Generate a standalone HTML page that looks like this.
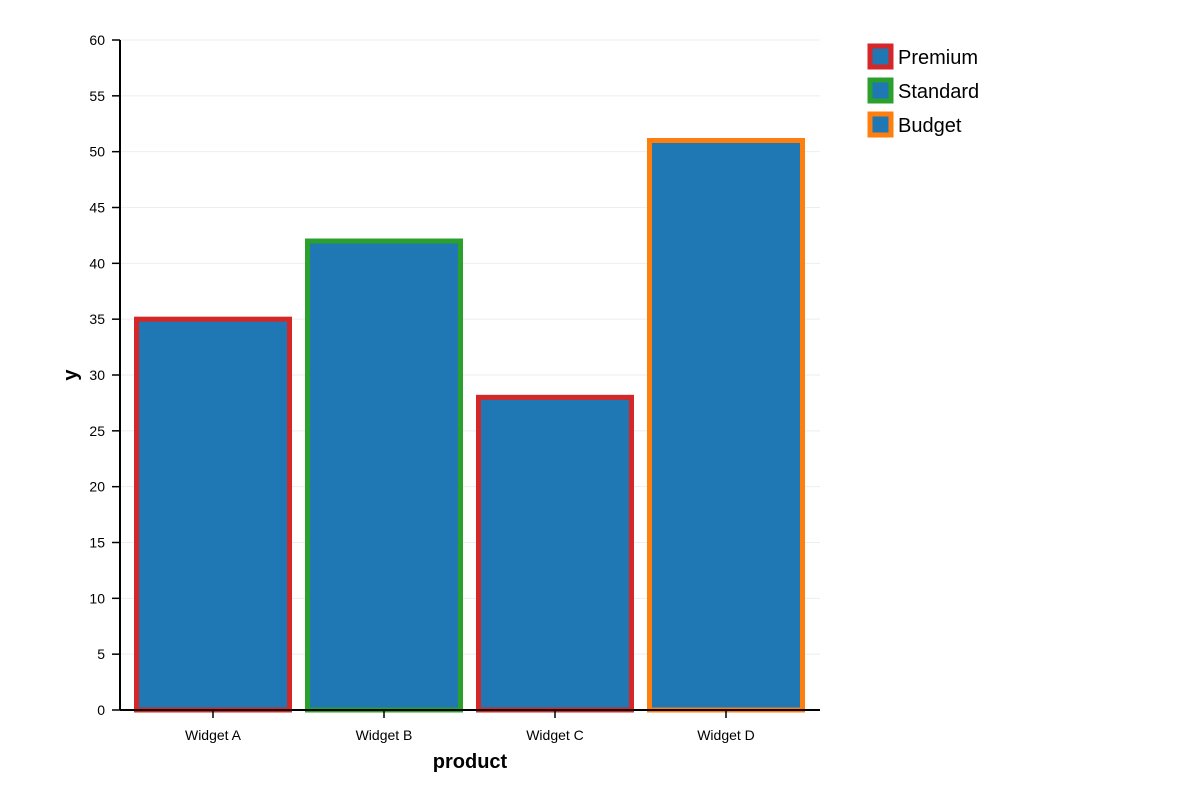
<!DOCTYPE html>
<html><head><meta charset="utf-8"><style>
html,body{margin:0;padding:0;background:#fff;width:1200px;height:800px;overflow:hidden}
svg{font-family:"Liberation Sans",Arial,sans-serif}
</style></head><body>
<svg id="chart" width="1200" height="800"></svg>
<script>
const categories=["Widget A","Widget B","Widget C","Widget D"];
const values=[35,42,28,51];
const tiers=["Premium","Standard","Premium","Budget"];
const legendLabels=["Premium","Standard","Budget"];
const legendColors=["#d62728","#2ca02c","#ff7f0e"];
const yTicks=[0,5,10,15,20,25,30,35,40,45,50,55,60];

const NS="http://www.w3.org/2000/svg";
const svg=document.getElementById('chart');
const X0=120,X1=820,Y0=710,Y1=40,YMAX=60;
const step=171,start=127.5,barW=153;
const y=v=>Y0-(v/YMAX)*(Y0-Y1);
const xc=i=>start+step*(i+0.5);
function mk(t,a,p){const e=document.createElementNS(NS,t);for(const k in a)e.setAttribute(k,a[k]);(p||svg).appendChild(e);return e;}
const colorOf=t=>legendColors[legendLabels.indexOf(t)];

// grid
yTicks.forEach(v=>{
  const g=mk('line',{x1:X0,x2:X1,y1:y(v),y2:y(v),stroke:'#eeeeee','stroke-width':1});
  
  
});
// bars
values.forEach((v,i)=>{
  const r=mk('rect',{x:xc(i)-barW/2,y:y(v),width:barW,height:Y0-y(v),fill:'#1f77b4',stroke:colorOf(tiers[i]),'stroke-width':5});
  
  
});
// axes
const ya=mk('line',{x1:X0,x2:X0,y1:Y1,y2:Y0,stroke:'#000','stroke-width':2});


const xa=mk('line',{x1:X0,x2:X1,y1:Y0,y2:Y0,stroke:'#000','stroke-width':2});


yTicks.forEach(v=>{
  mk('line',{x1:X0-8,x2:X0,y1:y(v),y2:y(v),stroke:'#000','stroke-width':1.5});
  const t=mk('text',{x:X0-15,y:y(v)+5,'text-anchor':'end','font-size':14,fill:'#000'});
  t.textContent=v;
  
  
});
categories.forEach((c,i)=>{
  mk('line',{x1:xc(i),x2:xc(i),y1:Y0,y2:Y0+8,stroke:'#000','stroke-width':1.5});
  const t=mk('text',{x:xc(i),y:Y0+30,'text-anchor':'middle','font-size':14,fill:'#000'});
  t.textContent=c;
  
  
});
const xt=mk('text',{x:470,y:768,'text-anchor':'middle','font-size':20,'font-weight':'bold'});
xt.textContent='product';


const yt=mk('text',{x:0,y:0,'text-anchor':'middle','font-size':20,'font-weight':'bold',transform:'translate(77,375) rotate(-90)'});
yt.textContent='y';


// legend
legendLabels.forEach((l,i)=>{
  const gy=46+i*34;
  const r=mk('rect',{x:870,y:gy,width:21,height:21,fill:'#1f77b4',stroke:legendColors[i],'stroke-width':5});
  
  
  const t=mk('text',{x:898,y:gy+18,'font-size':20,fill:'#000'});
  t.textContent=l;
  
  
});
</script>
</body></html>
